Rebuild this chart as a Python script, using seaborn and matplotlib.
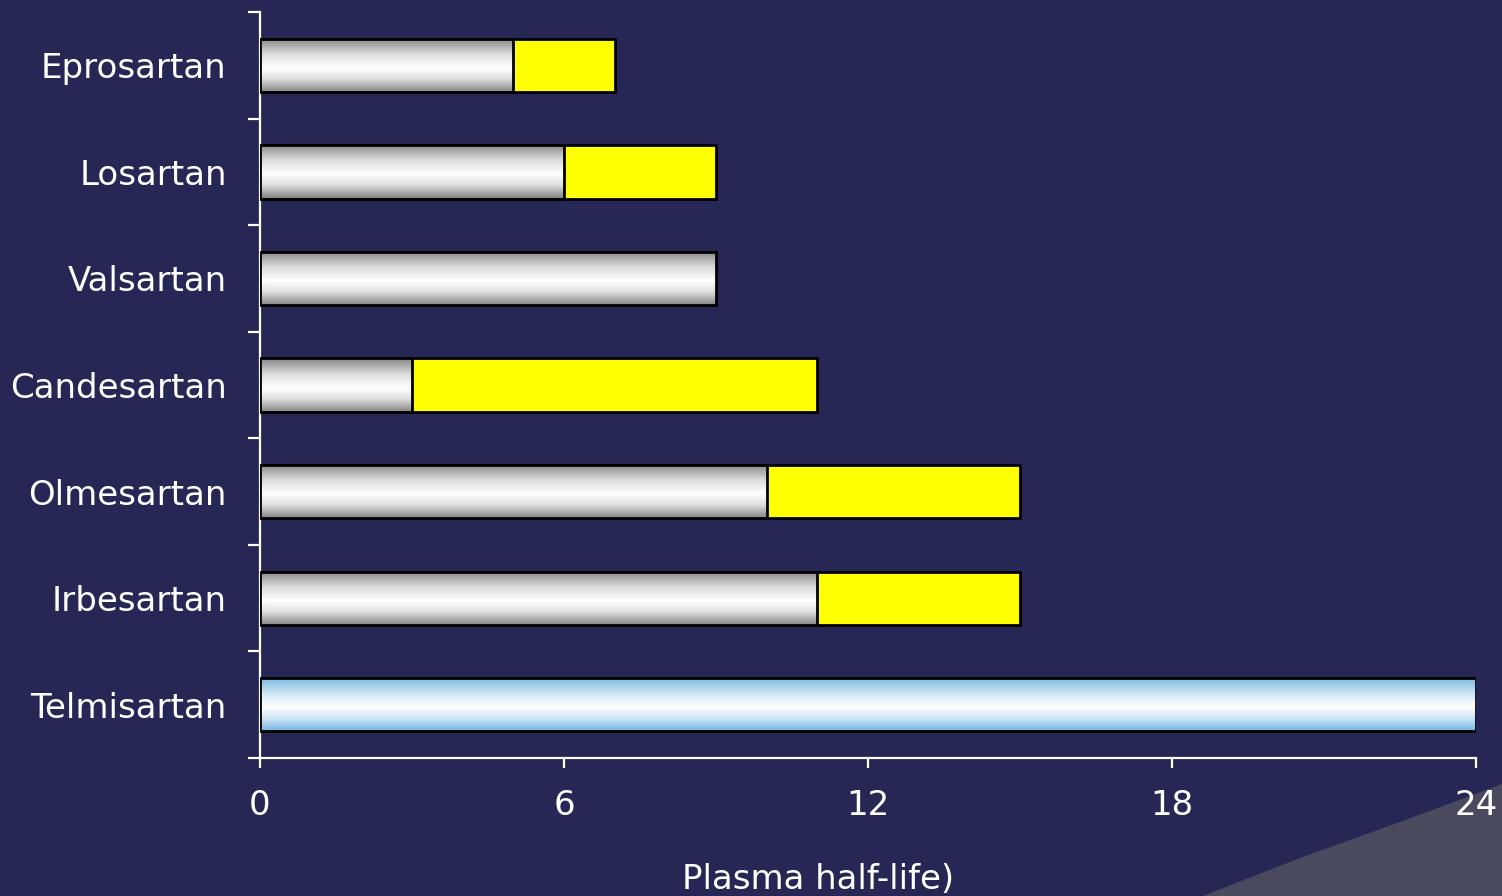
import numpy as np
import pandas as pd
import matplotlib
matplotlib.use("Agg")
import matplotlib.pyplot as plt
from matplotlib.colors import LinearSegmentedColormap
from matplotlib.patches import Polygon
import seaborn as sns

drugs = ["Eprosartan", "Losartan", "Valsartan", "Candesartan",
         "Olmesartan", "Irbesartan", "Telmisartan"]
low_values = [5, 6, 9, 3, 10, 11, 24]
high_values = [7, 9, 9, 11, 15, 15, 24]
x_ticks = [0, 6, 12, 18, 24]
x_label = "Plasma half-life)"

BG = "#262754"
sns.set_theme(style="white")
plt.rcParams["font.family"] = ["DejaVu Sans"]

df = pd.DataFrame({"drug": drugs, "low": low_values, "high": high_values})

fig = plt.figure(figsize=(15.02, 8.96), dpi=100)
fig.patch.set_facecolor(BG)

ax = fig.add_axes([260 / 1502, (896 - 758) / 896, 1216 / 1502, 746 / 896])
ax.set_facecolor("none")
ax.set_zorder(2)

# decorative wedge bottom-right (behind axes)
wedge = Polygon([(1203 / 1502, 0.0), (1300 / 1502, 38 / 896), (1400 / 1502, 74 / 896),
                 (1502 / 1502, 112 / 896), (1.0, 0.0)],
                closed=True, transform=fig.transFigure, facecolor="#4a4a5e",
                edgecolor="none", zorder=-5)
fig.patches.append(wedge)

sns.barplot(data=df, x="high", y="drug", orient="h", color="#ffff00",
            width=0.5, edgecolor="black", linewidth=2, saturation=1, ax=ax, zorder=2)
sns.barplot(data=df, x="low", y="drug", orient="h", color="#ffffff",
            width=0.5, edgecolor="black", linewidth=2, saturation=1, ax=ax, zorder=4)

gray_cmap = LinearSegmentedColormap.from_list(
    "g", [(0, "#858585"), (0.3, "#dcdcdc"), (0.55, "#ffffff"), (0.75, "#e0e0e0"), (1, "#858585")])
blue_cmap = LinearSegmentedColormap.from_list(
    "b", [(0, "#74b6e0"), (0.3, "#cfe6f5"), (0.55, "#ffffff"), (0.75, "#d3e8f6"), (1, "#74b6e0")])
grad = np.linspace(0, 1, 256).reshape(-1, 1)

for i, p in enumerate(ax.containers[1].patches):
    p.set_facecolor("none")
    x0, y0, w, h = p.get_x(), p.get_y(), p.get_width(), p.get_height()
    cmap = blue_cmap if drugs[i] == "Telmisartan" else gray_cmap
    im = ax.imshow(grad, cmap=cmap, extent=[x0, x0 + w, y0 + h, y0],
                   aspect="auto", zorder=3, interpolation="bilinear")
    im.set_clip_path(p)

ax.set_xlim(0, 24)
ax.set_ylim(6.5, -0.5)

for side in ["top", "right"]:
    ax.spines[side].set_visible(False)
for side in ["left", "bottom"]:
    ax.spines[side].set_color("white")
    ax.spines[side].set_linewidth(1.6)

ax.set_xticks(x_ticks)
ax.set_xticklabels([str(t) for t in x_ticks])
ax.set_yticks(range(len(drugs)))
ax.set_yticklabels(drugs)
ax.set_yticks(np.arange(-0.5, len(drugs), 1.0), minor=True)
ax.tick_params(axis="y", which="major", length=0, pad=24, labelsize=24.5, colors="white")
ax.tick_params(axis="y", which="minor", length=9, width=1.6, color="white", left=True, direction="out")
ax.tick_params(axis="x", which="major", length=7, width=1.6, color="white", pad=15,
               labelsize=24.5, labelcolor="white", bottom=True, direction="out")
ax.set_ylabel("")
ax.set_xlabel(x_label, color="white", fontsize=24.5, labelpad=30,
              x=(818 - 260) / 1216)

fig.savefig("out.png", dpi=100, facecolor=BG)
